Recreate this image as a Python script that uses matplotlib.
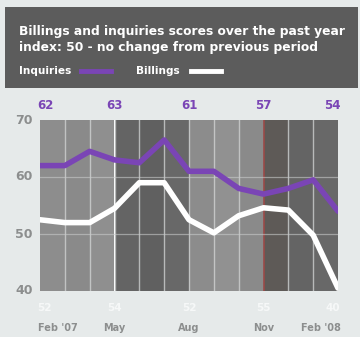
import matplotlib
matplotlib.use("Agg")
import matplotlib.pyplot as plt
from matplotlib.lines import Line2D

W, H = 360, 337

months = ["Feb '07", "Mar", "Apr", "May", "Jun", "Jul", "Aug",
          "Sep", "Oct", "Nov", "Dec", "Jan", "Feb '08"]
inquiries = [62, 62, 64.5, 63, 62.5, 66.5, 61, 61, 58, 57, 58, 59.5, 54]
billings = [52.5, 52, 52, 54.5, 59, 59, 52.5, 50.2, 53.2, 54.6, 54.2, 49.8, 40.5]
labelled = [0, 3, 6, 9, 12]
tick_names = ["Feb '07", "May", "Aug", "Nov", "Feb '08"]
y_ticks = [40, 50, 60, 70]
column_colors = ["#8d8d8d", "#8a8a8a", "#8f8f8f",
                 "#646464", "#606060", "#686868",
                 "#8c8c8c", "#919191", "#8a8a8a",
                 "#5e5a57", "#646464", "#686868"]

BG = "#e6eaea"
PURPLE = "#7a45b5"
GRAY_TXT = "#8c8e8e"


def fx(px):
    return px / W


def fy(py):
    return 1 - py / H


fig = plt.figure(figsize=(W / 100, H / 100), dpi=100, facecolor=BG)

# header band
hdr = fig.add_axes([fx(5), fy(88), fx(353), (88 - 7) / H])
hdr.set_axis_off()
hdr.add_patch(plt.Rectangle((0, 0), 1, 1, transform=hdr.transAxes,
                            color="#5c5c5c"))

font = "DejaVu Sans"
fig.text(fx(19), fy(31), "Billings and inquiries scores over the past year",
         color="white", fontsize=8.8, fontweight="bold", family=font,
         va="center", ha="left")
fig.text(fx(19), fy(47), "index: 50 - no change from previous period",
         color="white", fontsize=8.8, fontweight="bold", family=font,
         va="center", ha="left")
fig.text(fx(19), fy(71), "Inquiries", color="white", fontsize=7.6,
         fontweight="bold", family=font, va="center", ha="left")
fig.text(fx(136), fy(71), "Billings", color="white", fontsize=7.6,
         fontweight="bold", family=font, va="center", ha="left")
fig.add_artist(Line2D([fx(81), fx(111)], [fy(71), fy(71)], color=PURPLE,
                      lw=3.5, transform=fig.transFigure))
fig.add_artist(Line2D([fx(191), fx(221)], [fy(71), fy(71)], color="white",
                      lw=3.5, transform=fig.transFigure))

# main plot
ax = fig.add_axes([fx(40), fy(291), fx(338 - 40), (291 - 120) / H])
ax.set_xlim(0, len(months) - 1)
ax.set_ylim(40, 70)
for i, c in enumerate(column_colors):
    ax.axvspan(i, i + 1, color=c, lw=0, zorder=0)
ax.axvline(9, color="#9a4a48", lw=1.2, zorder=1)
for i in range(1, len(months) - 1):
    if i != 9:
        ax.axvline(i, color="#d4d6d6", lw=1.0, alpha=0.75, zorder=1)
for v in (50, 60):
    ax.axhline(v, color="#c8caca", lw=0.9, alpha=0.6, zorder=1)

x = list(range(len(months)))
ax.plot(x, inquiries, color=PURPLE, lw=4, solid_joinstyle="round",
        solid_capstyle="round", zorder=3)
ax.plot(x, billings, color="white", lw=4, solid_joinstyle="round",
        solid_capstyle="round", zorder=3)

ax.set_xticks([])
ax.set_yticks([])
for s in ax.spines.values():
    s.set_visible(False)

for v in y_ticks:
    ax.text(-0.3, v, str(v), color=GRAY_TXT, fontsize=9,
            fontweight="bold", ha="right", va="center", family=font)

n = len(months) - 1
for idx, name in zip(labelled, tick_names):
    ha = "left" if idx == 0 else ("right" if idx == n else "center")
    off = -0.1 if idx == 0 else (0.1 if idx == n else 0)
    ax.text(idx + off, 37.1, f"{billings[idx]:.0f}", color="#f6f8f8",
            fontsize=7.5, fontweight="bold", ha=ha, va="center", family=font)
    ax.text(idx + off, 33.5, name, color=GRAY_TXT, fontsize=7,
            fontweight="bold", ha=ha, va="center", family=font)
    ax.text(idx + off, 72.6, f"{inquiries[idx]:.0f}", color=PURPLE,
            fontsize=8.5, fontweight="bold", ha=ha, va="center", family=font)

fig.savefig("out.png", dpi=100, facecolor=BG)
